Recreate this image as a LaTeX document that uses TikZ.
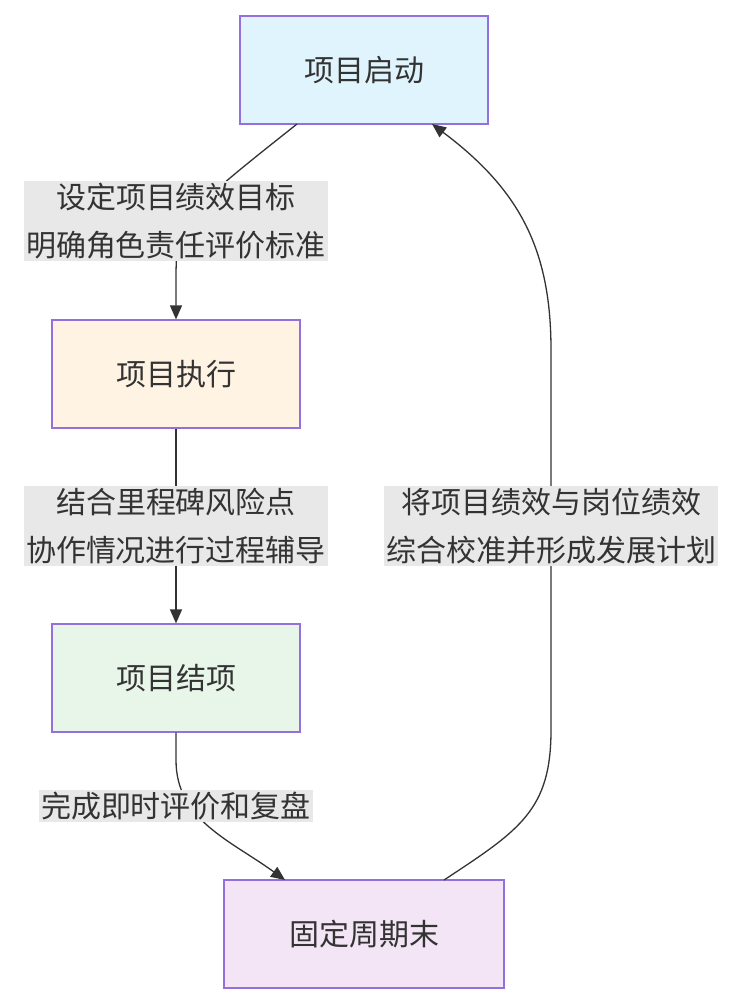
\documentclass[tikz,border=0pt]{standalone}
\usepackage{fontspec}
\setmainfont{Noto Sans CJK SC}
\usetikzlibrary{arrows.meta}
\definecolor{bordc}{HTML}{9370DB}
\definecolor{lblbg}{HTML}{E8E8E8}
\definecolor{edgec}{HTML}{333333}
\tikzset{
  box/.style={draw=bordc,line width=1.2pt,minimum width=#1,minimum height=108pt,inner sep=0pt,font=\fontsize{30}{40}\selectfont,text=edgec},
  lbl/.style={fill=lblbg,inner sep=2pt,align=center,font=\fontsize{30}{48}\selectfont,text=edgec},
  edge/.style={draw=edgec,line width=1.3pt,-{Triangle[length=14pt,width=12pt]}}
}
\begin{document}
\begin{tikzpicture}[x=1pt,y=-1pt]
\useasboundingbox (0,0) rectangle (744,1004);
\fill[white] (0,0) rectangle (744,1004);
\node[box=248pt,fill={rgb,255:red,224;green,244;blue,253}] (a) at (364,70) {项目启动};
\node[box=248pt,fill={rgb,255:red,255;green,243;blue,227}] (b) at (176,374) {项目执行};
\node[box=248pt,fill={rgb,255:red,232;green,245;blue,233}] (c) at (176,678) {项目结项};
\node[box=280pt,fill={rgb,255:red,243;green,229;blue,245}] (d) at (364,934) {固定周期末};
\coordinate (a1) at (297,124);
\coordinate (a2) at (432,124);
\coordinate (d1) at (285,880);
\coordinate (d2) at (444,880);
\draw[edge] (a1) .. controls (176,220) .. (176,285) -- (b.north);
\draw[edge] (b.south) -- (c.north);
\draw[edge] (c.south) -- (176,760) .. controls (176,820) and (230,840) .. (d1);
\draw[edge] (d2) .. controls (520,830) and (551,810) .. (551,730) -- (551,350) .. controls (551,250) and (520,190) .. (a2);
\node[lbl] (l1) at (176,221) {设定项目绩效目标\\明确角色责任评价标准};
\node[lbl] (l2) at (176,526) {结合里程碑风险点\\协作情况进行过程辅导};
\node[lbl] (l3) at (176,806) {完成即时评价和复盘};
\node[lbl] (l4) at (551,526) {将项目绩效与岗位绩效\\综合校准并形成发展计划};
\end{tikzpicture}
\end{document}
